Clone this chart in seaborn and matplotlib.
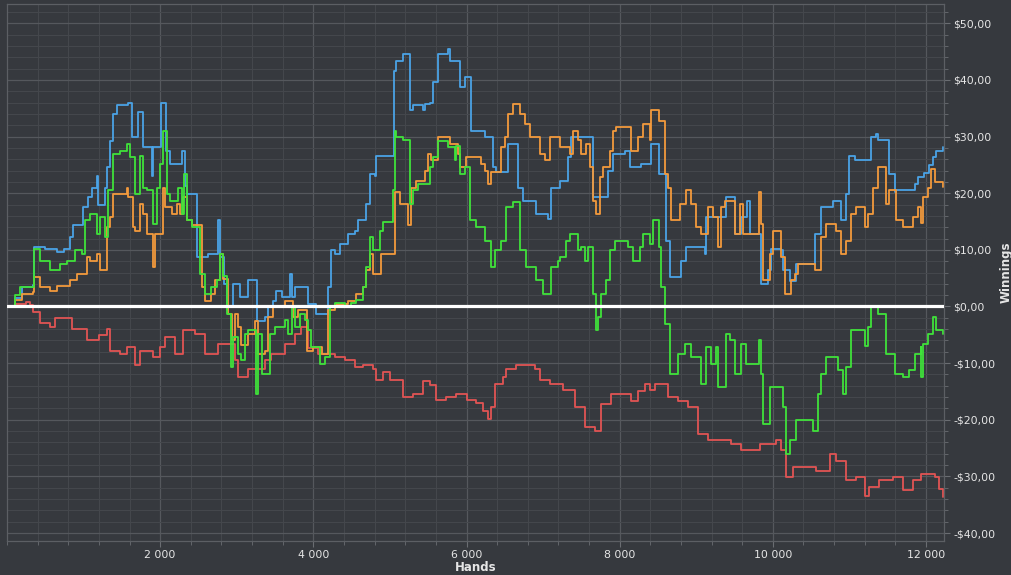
import matplotlib
matplotlib.use("Agg")
import matplotlib.pyplot as plt
from matplotlib.ticker import FixedLocator, MultipleLocator, FuncFormatter
import seaborn as sns
import pandas as pd

# cumulative winnings per player (hands, $)
blue_hands = [0, 100, 200, 340, 355, 500, 650, 740, 822, 866, 988, 1060, 1105, 1170, 1192, 1280,
              1310, 1345, 1388, 1432, 1580, 1627, 1714, 1780, 1890, 1910, 2010, 2070, 2130, 2280,
              2320, 2345, 2475, 2628, 2758, 2780, 2830, 2867, 2954, 3040, 3150, 3258, 3367, 3410,
              3475, 3519, 3585, 3693, 3715, 3758, 3932, 4041, 4193, 4237, 4280, 4346, 4455, 4541,
              4585, 4694, 4737, 4803, 4824, 5050, 5085, 5172, 5259, 5303, 5433, 5455, 5520, 5563,
              5629, 5759, 5781, 5911, 5977, 6064, 6238, 6347, 6390, 6542, 6673, 6738, 6912, 7064,
              7107, 7216, 7325, 7368, 7651, 7847, 7912, 8064, 8130, 8282, 8413, 8520, 8608, 8652,
              8804, 8869, 9108, 9130, 9391, 9500, 9587, 9660, 9700, 9849, 9936, 9979, 10110, 10130,
              10219, 10300, 10523, 10545, 10632, 10784, 10893, 10958, 11001, 11067, 11284, 11350,
              11371, 11523, 11589, 11610, 11850, 11890, 11980, 12045, 12089, 12130, 12220]
blue_won = [0, 1.5, 3.5, 3.8, 10.5, 10.2, 9.6, 10.2, 12.2, 14.3, 17.5, 19.3, 21.0, 23.1, 18.0, 21.0,
            24.6, 29.3, 34.0, 35.5, 36.0, 29.9, 34.3, 28.1, 23.1, 28.1, 36.0, 27.5, 25.2, 27.5,
            21.3, 19.9, 8.7, 9.3, 15.2, 8.7, 4.0, 0.0, 4.0, 1.6, 4.6, -2.5, -1.9, 0.0,
            1.0, 2.8, 1.6, 5.8, 1.6, 3.4, 0.5, -1.3, 3.4, 9.9, 9.3, 11.0, 12.8, 13.4,
            15.2, 18.1, 23.4, 23.1, 26.6, 41.6, 43.4, 44.6, 34.6, 35.5, 34.6, 35.8, 36.0, 39.6,
            44.6, 45.5, 43.4, 38.7, 40.5, 31.0, 29.9, 24.6, 23.7, 28.7, 21.0, 18.7, 16.4, 15.5,
            21.0, 22.2, 26.4, 29.9, 19.3, 24.0, 26.9, 27.5, 24.6, 25.2, 28.7, 23.4, 11.6, 5.2,
            8.1, 10.5, 9.3, 15.8, 19.3, 12.8, 15.8, 18.7, 12.8, 4.0, 6.5, 10.2, 10.0, 6.5,
            4.5, 7.5, 7.5, 12.8, 17.5, 18.7, 15.2, 19.9, 26.6, 25.8, 29.9, 30.5,
            29.4, 23.4, 20.2, 20.5, 21.6, 22.8, 23.5, 25.0, 26.4, 27.5, 28.2]

orange_hands = [0, 100, 200, 340, 355, 431, 561, 650, 822, 910, 1040, 1080, 1170, 1214, 1301, 1345,
                1388, 1562, 1584, 1649, 1670, 1736, 1780, 1823, 1910, 1932, 2032, 2060, 2150, 2215,
                2258, 2302, 2345, 2410, 2540, 2584, 2670, 2715, 2780, 2823, 2889, 2932, 2975, 3019,
                3062, 3150, 3237, 3280, 3367, 3410, 3475, 3628, 3738, 3802, 3911, 4000, 4107, 4193,
                4280, 4455, 4563, 4650, 4694, 4737, 4780, 4890, 5063, 5130, 5237, 5281, 5346, 5455,
                5498, 5542, 5629, 5781, 5890, 5911, 5999, 6194, 6238, 6281, 6325, 6455, 6499, 6542,
                6608, 6695, 6760, 6825, 6955, 7020, 7086, 7216, 7347, 7390, 7455, 7500, 7564, 7608,
                7651, 7695, 7738, 7782, 7869, 7912, 7956, 8152, 8239, 8304, 8390, 8413, 8520, 8586,
                8630, 8673, 8782, 8869, 8934, 9000, 9065, 9152, 9217, 9282, 9326, 9370, 9500, 9565,
                9609, 9814, 9849, 9870, 9957, 10000, 10110, 10153, 10240, 10284, 10327, 10545, 10632,
                10697, 10827, 10893, 10958, 11023, 11089, 11197, 11240, 11306, 11371, 11480, 11523,
                11610, 11697, 11828, 11894, 11940, 11960, 12024, 12067, 12111, 12220]
orange_won = [0, 1.2, 2.2, 2.5, 5.2, 3.4, 2.8, 3.7, 4.6, 5.8, 8.7, 8.1, 9.3, 6.4, 14.0, 15.8,
              19.9, 21.0, 19.3, 14.0, 13.4, 18.1, 16.4, 12.8, 6.9, 12.8, 21.0, 17.5, 16.4, 18.1,
              16.4, 19.3, 15.2, 14.3, 3.4, 1.0, 2.2, 4.6, 9.3, 4.9, -1.3, -6.0, -1.3, -3.6,
              -6.8, -4.8, -2.5, -8.4, -7.8, -1.9, 0.0, 1.0, -1.9, -0.6, -7.8, -7.2, -8.4, -0.7,
              0.5, 1.0, 2.2, 3.4, 6.4, 9.3, 5.8, 9.3, 20.2, 18.1, 14.3, 21.0, 22.2, 24.0,
              26.9, 25.8, 29.9, 28.7, 26.9, 24.6, 26.4, 25.2, 24.0, 21.6, 23.7, 28.1, 29.9, 34.0,
              35.8, 34.0, 32.2, 29.9, 26.9, 25.8, 29.9, 28.1, 26.9, 31.0, 29.4, 26.9, 28.7, 24.6,
              18.7, 16.4, 22.8, 24.6, 27.5, 31.0, 31.6, 27.5, 29.9, 32.2, 29.4, 34.6, 32.8, 23.4,
              21.0, 15.2, 18.1, 20.5, 18.1, 14.0, 12.8, 17.5, 15.8, 10.5, 17.5, 18.7, 12.8, 18.1,
              12.8, 20.2, 14.6, 4.6, 9.3, 13.4, 8.7, 2.2, 4.6, 5.8, 7.5, 6.4, 12.2,
              14.6, 13.4, 9.3, 11.6, 16.4, 17.5, 14.0, 16.4, 21.0, 24.6, 18.1, 20.5,
              15.2, 14.0, 15.8, 17.5, 14.8, 19.3, 21.0, 24.3, 22.0, 21.1]

green_hands = [0, 100, 170, 340, 353, 431, 561, 692, 780, 888, 975, 1018, 1083, 1170, 1214, 1280,
               1323, 1388, 1475, 1562, 1605, 1671, 1736, 1780, 1823, 1910, 1953, 1997, 2041, 2084,
               2130, 2236, 2280, 2310, 2345, 2410, 2519, 2584, 2670, 2736, 2780, 2823, 2867, 2923,
               2954, 3019, 3062, 3106, 3150, 3245, 3280, 3324, 3432, 3497, 3628, 3672, 3715, 3758,
               3824, 3889, 3932, 3976, 4085, 4150, 4215, 4280, 4411, 4498, 4563, 4650, 4694, 4737,
               4780, 4868, 4911, 5041, 5063, 5085, 5172, 5259, 5303, 5368, 5520, 5563, 5629, 5759,
               5846, 5868, 5911, 5977, 6042, 6129, 6238, 6325, 6368, 6455, 6520, 6608, 6695, 6782,
               6912, 6999, 7108, 7195, 7216, 7303, 7347, 7455, 7500, 7543, 7586, 7651, 7695, 7717,
               7760, 7825, 7869, 7934, 8108, 8173, 8260, 8304, 8390, 8434, 8520, 8543, 8586, 8652,
               8760, 8847, 8934, 9065, 9130, 9195, 9260, 9282, 9391, 9435, 9500, 9587, 9653, 9814,
               9849, 9870, 9957, 10132, 10175, 10219, 10305, 10436, 10523, 10588, 10632, 10697,
               10850, 10915, 10958, 11023, 11197, 11240, 11284, 11371, 11480, 11589, 11697, 11784,
               11850, 11930, 11940, 11960, 12024, 12089, 12133, 12220]
green_won = [0, 2.0, 3.4, 3.4, 10.2, 8.1, 6.4, 7.5, 8.1, 9.9, 9.3, 15.2, 16.4, 12.8, 15.8, 12.2,
             20.5, 26.9, 27.5, 28.7, 26.4, 19.9, 26.6, 21.0, 20.5, 14.6, 21.0, 25.2, 31.0, 19.9,
             18.7, 21.0, 16.4, 23.4, 15.2, 14.0, 5.8, 2.2, 3.4, 4.6, 9.3, 5.3, -1.3, -10.7,
             -5.4, -8.4, -9.5, -4.8, -4.2, -15.4, -4.8, -11.9, -4.8, -3.6, -2.4, -4.8, 0.0, -3.6,
             -1.3, -2.4, -4.2, -7.2, -10.1, -8.9, 0.0, 0.6, 0.0, 0.6, 1.2, 3.4, 6.9, 12.2,
             9.9, 13.4, 14.9, 20.5, 31.0, 29.9, 29.4, 18.1, 20.5, 21.6, 24.6, 26.4, 29.3, 28.1,
             25.8, 28.4, 23.4, 24.6, 15.2, 14.0, 11.6, 6.9, 9.9, 11.6, 17.5, 18.4, 9.9, 6.9,
             4.6, 2.2, 6.9, 8.1, 8.7, 11.6, 12.8, 9.9, 10.5, 8.1, 10.5, 2.2, -4.2, -1.9,
             2.2, 4.6, 9.9, 11.6, 10.5, 8.1, 10.5, 12.8, 11.0, 15.2, 10.5, 3.4, -3.1, -11.9,
             -8.4, -6.6, -8.9, -13.6, -7.2, -10.1, -7.2, -14.2, -4.8, -6.0, -11.9, -6.6, -10.1, -6.0,
             -11.9, -20.7, -14.2, -17.8, -26.0, -23.6, -20.1, -20.1, -21.9, -15.4, -11.9, -8.9,
             -11.2, -15.4, -10.7, -4.2, -7.0, -3.6, 0.0, -1.3, -8.4, -11.9, -12.5, -11.2,
             -8.4, -7.2, -12.5, -6.6, -4.8, -1.9, -4.2, -4.8]

red_hands = [0, 100, 250, 300, 344, 430, 561, 630, 800, 844, 1040, 1200, 1301, 1345, 1475, 1562,
             1670, 1736, 1910, 1997, 2064, 2193, 2302, 2454, 2584, 2758, 2975, 3019, 3150, 3367,
             3450, 3628, 3758, 3845, 3932, 4063, 4280, 4411, 4541, 4650, 4780, 4824, 4911, 5000,
             5172, 5300, 5433, 5520, 5607, 5737, 5868, 6000, 6129, 6216, 6281, 6325, 6368, 6477,
             6520, 6651, 6825, 6890, 6955, 7086, 7260, 7412, 7543, 7673, 7760, 7890, 8021, 8152,
             8240, 8326, 8390, 8456, 8543, 8630, 8760, 8891, 9021, 9152, 9326, 9456, 9587, 9740,
             9827, 10044, 10110, 10175, 10262, 10436, 10566, 10740, 10827, 10958, 11089, 11197,
             11262, 11392, 11480, 11567, 11697, 11828, 11937, 12045, 12111, 12176, 12220]
red_won = [0, 0.5, 0.8, 0.2, -1.0, -2.9, -3.6, -2.1, -2.1, -4.0, -6.0, -5.0, -3.9, -7.8, -8.4, -7.2,
           -10.4, -7.8, -9.0, -7.2, -5.3, -8.4, -4.2, -4.8, -8.4, -6.6, -9.5, -12.5, -11.0, -9.5,
           -8.4, -6.6, -4.8, -3.6, -7.4, -8.4, -8.9, -9.5, -10.7, -10.4, -11.0, -13.0, -11.5, -13.0,
           -16.0, -15.4, -13.2, -13.8, -16.5, -15.9, -15.4, -16.5, -17.1, -18.4, -19.8, -17.8, -13.6, -12.5,
           -11.0, -10.4, -10.4, -11.0, -13.0, -13.6, -14.8, -17.8, -21.3, -21.9, -17.2, -15.4, -15.4, -16.6,
           -15.0, -13.6, -14.8, -13.6, -13.6, -16.0, -16.6, -17.8, -22.5, -23.6, -23.6, -24.2, -25.4, -25.4,
           -24.2, -23.6, -25.4, -30.1, -28.4, -28.4, -29.0, -26.0, -27.2, -30.6, -30.1, -33.5,
           -31.8, -30.6, -30.6, -30.1, -32.4, -30.6, -29.5, -29.5, -30.1, -32.2, -33.6]

players = ["red", "blue", "orange", "green"]
colors = {"red": "#e15454", "blue": "#4aa3e6", "orange": "#f39a3c", "green": "#3fe23a"}

frames = [
    pd.DataFrame({"hands": red_hands, "won": red_won, "player": "red"}),
    pd.DataFrame({"hands": blue_hands, "won": blue_won, "player": "blue"}),
    pd.DataFrame({"hands": orange_hands, "won": orange_won, "player": "orange"}),
    pd.DataFrame({"hands": green_hands, "won": green_won, "player": "green"}),
]
df = pd.concat(frames, ignore_index=True)

BG = "#36393e"
TXT = "#e6e6e6"
sns.set_theme(style="dark", rc={
    "axes.facecolor": BG, "figure.facecolor": BG, "savefig.facecolor": BG,
    "axes.edgecolor": "#5c5f64", "text.color": TXT,
    "xtick.color": "#6a6d72", "ytick.color": "#6a6d72",
    "xtick.labelcolor": TXT, "ytick.labelcolor": TXT,
})
plt.rcParams["font.family"] = ["DejaVu Sans"]

fig = plt.figure(figsize=(10.12, 5.75), dpi=100)
ax = fig.add_axes([7 / 1012, 34 / 575, 937 / 1012, 537 / 575])

sns.lineplot(data=df, x="hands", y="won", hue="player", hue_order=players, palette=colors,
             estimator=None, sort=False, drawstyle="steps-post", linewidth=1.3,
             legend=False, ax=ax)

# zero line
ax.axhline(0, color="white", linewidth=2.3, zorder=5)

ax.set_xlim(0, 12235)
ax.set_ylim(-41.4, 53.4)

ax.xaxis.set_major_locator(FixedLocator([2000, 4000, 6000, 8000, 10000, 12000]))
ax.xaxis.set_minor_locator(MultipleLocator(400))
ax.yaxis.set_major_locator(MultipleLocator(10))
ax.yaxis.set_minor_locator(MultipleLocator(2))

ax.xaxis.set_major_formatter(FuncFormatter(lambda v, p: f"{int(v):,}".replace(",", " ")))
ax.yaxis.set_major_formatter(FuncFormatter(
    lambda v, p: ("-" if v < 0 else "") + "$" + f"{abs(v):.2f}".replace(".", ",")))

ax.yaxis.tick_right()
ax.yaxis.set_label_position("right")
ax.tick_params(axis="both", which="major", labelsize=7.8, length=4, width=0.8, pad=2.5)
ax.tick_params(axis="both", which="minor", length=3, width=0.6)
ax.tick_params(axis="y", which="both", left=False, right=True)
ax.tick_params(axis="x", which="both", bottom=True)

ax.grid(which="major", color="#55585d", linewidth=0.9)
ax.grid(which="minor", color="#45484d", linewidth=0.7)
ax.set_axisbelow(True)

for s in ax.spines.values():
    s.set_color("#5c5f64")
    s.set_linewidth(0.9)

ax.set_xlabel("Hands", fontsize=8.5, fontweight="bold", color=TXT, labelpad=1)
ax.set_ylabel("Winnings", fontsize=8.5, fontweight="bold", color=TXT, labelpad=3)

fig.savefig("out.png", dpi=100)
